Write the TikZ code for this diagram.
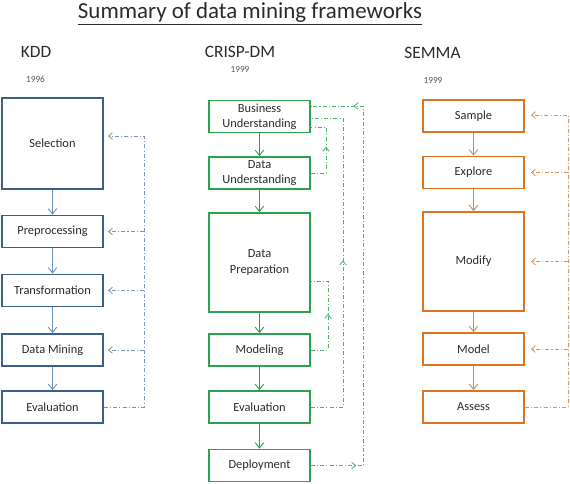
\documentclass[tikz,border=0pt]{standalone}
\usepackage{fontspec}
\setmainfont{Carlito}
\usetikzlibrary{arrows.meta,decorations.markings}
\definecolor{inkgray}{HTML}{2B2B2B}
\definecolor{kddline}{HTML}{3B5E8C}
\definecolor{kddarrow}{HTML}{7191BE}
\definecolor{kddfbcol}{HTML}{7A95B8}
\definecolor{crispline}{HTML}{2CA24F}
\definecolor{crispfbcol}{HTML}{4DB36E}
\definecolor{semmaline}{HTML}{E07322}
\definecolor{semmaarrow}{HTML}{C4915F}
\definecolor{semmafbcol}{HTML}{D9925A}
\newcommand{\boxfont}{\fontsize{9.3}{11.3}\selectfont}
\tikzset{
  fbtip/.tip={Straight Barb[length=3pt,width=5pt]},
  box/.style={draw, line width=1.3pt, fill=white, text=inkgray, minimum width=75.75pt,
    minimum height=24pt, inner sep=1pt, align=center, font=\boxfont},
  flow/.style={-{Straight Barb[length=4pt,width=6.5pt]}, line width=0.7pt},
  fb/.style={line width=0.6pt, dash pattern=on 3pt off 1.6pt on 0.8pt off 1.6pt},
  tipat/.style={postaction={decorate,decoration={markings,mark=at position #1 with {\arrow{fbtip}}}}},
  head/.style={anchor=base, text=inkgray, font=\fontsize{13}{15}\selectfont},
  year/.style={anchor=base, text=inkgray!80, font=\fontsize{7}{8}\selectfont}
}
\begin{document}
\begin{tikzpicture}[x=0.75pt,y=-0.75pt]
\useasboundingbox (0,0) rectangle (570,483);
% title and headings
\node[anchor=base, text=inkgray, font=\fontsize{17.2}{20}\selectfont] (title) at (250,18) {\underline{Summary of data mining frameworks}};
\node[head] (kddhead) at (36,57) {KDD};
\node[year] (kddyear) at (35.5,82) {1996};
\node[head] (crisphead) at (240,57) {CRISP-DM};
\node[year] (crispyear) at (240,72) {1999};
\node[head] (semmahead) at (432.5,58) {SEMMA};
\node[year] (semmayear) at (433,83) {1999};

% KDD
\node[box, draw=kddline, minimum height=68.25pt] (ksel) at (52.5,143.5) {Selection};
\node[box, draw=kddline] (kpre) at (52.5,231.5) {Preprocessing};
\node[box, draw=kddline] (ktra) at (52.5,290.5) {Transformation};
\node[box, draw=kddline] (kdm) at (52.5,350) {Data Mining};
\node[box, draw=kddline] (kev) at (52.5,407) {Evaluation};
\draw[flow, kddarrow] (ksel) -- (kpre);
\draw[flow, kddarrow] (kpre) -- (ktra);
\draw[flow, kddarrow] (ktra) -- (kdm);
\draw[flow, kddarrow] (kdm) -- (kev);
\coordinate (krail) at (144,136);
\draw[fb, color=kddfbcol, -{fbtip}, shorten >=3pt] (kev.east) -| (krail) -- (ksel.east |- krail);
\draw[fb, color=kddfbcol, -{fbtip}, shorten >=3pt] (krail |- kpre.east) -- (kpre.east);
\draw[fb, color=kddfbcol, -{fbtip}, shorten >=3pt] (krail |- ktra.east) -- (ktra.east);
\draw[fb, color=kddfbcol, -{fbtip}, shorten >=3pt] (krail |- kdm.east) -- (kdm.east);

% CRISP-DM
\node[box, draw=crispline] (cbus) at (259.5,116.5) {Business\\Understanding};
\node[box, draw=crispline] (cdu) at (259.5,173) {Data\\Understanding};
\node[box, draw=crispline, minimum height=74.25pt] (cprep) at (259.5,262.5) {Data\\Preparation};
\node[box, draw=crispline] (cmod) at (259.5,350) {Modeling};
\node[box, draw=crispline] (cev) at (259.5,407) {Evaluation};
\node[box, draw=crispline] (cdep) at (259.5,465.5) {Deployment};
\draw[flow, crispline] (cbus) -- (cdu);
\draw[flow, crispline] (cdu) -- (cprep);
\draw[flow, crispline] (cprep) -- (cmod);
\draw[flow, crispline] (cmod) -- (cev);
\draw[flow, crispline] (cev) -- (cdep);
\coordinate (crail1) at (363,106);
\coordinate (crail2) at (343,118);
\coordinate (crail3) at (326,127);
\coordinate (crail4) at (328,281);
\draw[fb, color=crispfbcol, tipat=34pt, tipat=-32pt] (cdep.east) -| (crail1) -- (cbus.east |- crail1);
\draw[fb, color=crispfbcol, tipat=134pt] (cev.east) -| (crail2) -- (cbus.east |- crail2);
\draw[fb, color=crispfbcol, tipat=31pt] (cdu.east) -| (crail3) -- (cbus.east |- crail3);
\draw[fb, color=crispfbcol, tipat=40pt] (cmod.east) -| (crail4) -- (cprep.east |- crail4);

% SEMMA
\node[box, draw=semmaline] (ssam) at (473.5,116) {Sample};
\node[box, draw=semmaline] (sexp) at (473.5,172.5) {Explore};
\node[box, draw=semmaline, minimum height=74.25pt] (smod) at (473.5,261.5) {Modify};
\node[box, draw=semmaline] (smdl) at (473.5,349) {Model};
\node[box, draw=semmaline] (sas) at (473.5,407) {Assess};
\draw[flow, semmaarrow] (ssam) -- (sexp);
\draw[flow, semmaarrow] (sexp) -- (smod);
\draw[flow, semmaarrow] (smod) -- (smdl);
\draw[flow, semmaarrow] (smdl) -- (sas);
\coordinate (srail) at (568,115);
\draw[fb, color=semmafbcol, -{fbtip}, shorten >=4.5pt] (sas.east) -| (srail) -- (ssam.east |- srail);
\draw[fb, color=semmafbcol, -{fbtip}, shorten >=4.5pt] (srail |- sexp.east) -- (sexp.east);
\draw[fb, color=semmafbcol, -{fbtip}, shorten >=4.5pt] (srail |- smod.east) -- (smod.east);
\draw[fb, color=semmafbcol, -{fbtip}, shorten >=4.5pt] (srail |- smdl.east) -- (smdl.east);
\end{tikzpicture}
\end{document}
